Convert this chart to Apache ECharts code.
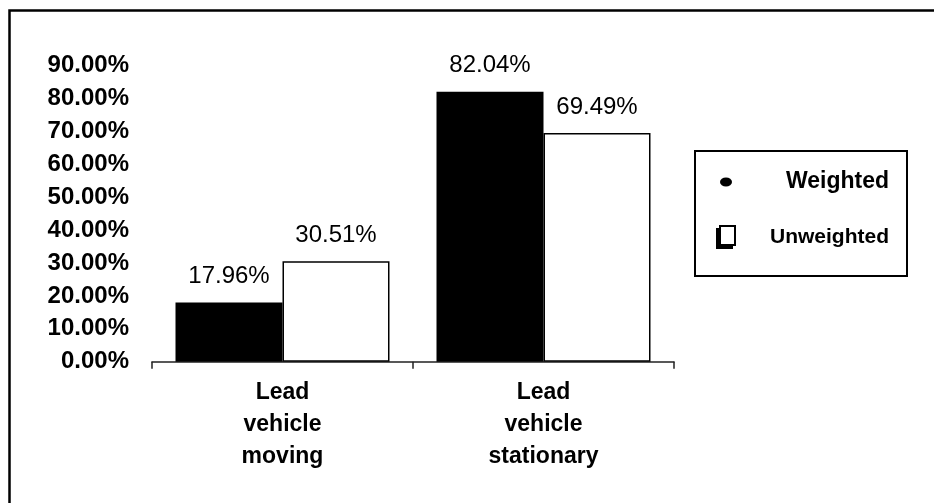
<!DOCTYPE html>
<html>
<head>
<meta charset="utf-8">
<script src="https://cdn.jsdelivr.net/npm/echarts@6/dist/echarts.min.js"></script>
<style>
  html, body { margin: 0; padding: 0; background: #fff; }
  #chart { width: 934px; height: 503px; }
</style>
</head>
<body>
<div id="chart"></div>
<script>
// data
const categories = ["Lead\nvehicle\nmoving", "Lead\nvehicle\nstationary"];
const weighted = [17.96, 82.04];
const unweighted = [30.51, 69.49];
const yMin = 0;
const yMax = 90;
const yStep = 10;

const font = "'Liberation Sans', Arial, sans-serif";
const pct = (v) => v.toFixed(2) + "%";

const myChart = echarts.init(document.getElementById("chart"));

const option = {
  backgroundColor: "#fff",
  animation: false,
  textStyle: { fontFamily: font },
  grid: { left: 152, right: 260, top: 65.5, bottom: 141.3 },
  // outer frame of the original figure
  graphic: [
    {
      type: "rect",
      left: 7,
      top: 8,
      shape: { width: 1000, height: 600 },
      style: { fill: "none", stroke: "#000", lineWidth: 2.5 },
      silent: true,
    },
  ],
  legend: {
    orient: "vertical",
    left: 695,
    top: 151,
    padding: [18, 18, 26, 20],
    borderColor: "#000",
    borderWidth: 2,
    itemWidth: 22,
    itemHeight: 26,
    itemGap: 29,
    selectedMode: false,
    data: [
      {
        name: "Weighted",
        icon: "path://M0 0 M22 26 M5 13 A6 4.5 0 1 0 17 13 A6 4.5 0 1 0 5 13 Z",
        itemStyle: { color: "#000", borderWidth: 0 },
      },
      {
        // square with a drop shadow to the lower left, drawn as one black outline
        name: "Unweighted",
        icon: "path://M0 0 M22 26 M4 1 L21 1 L21 22 L18 22 L18 25 L1 25 L1 4 L4 4 Z M6 3 L6 20 L19 20 L19 3 Z",
        itemStyle: { color: "#000", borderWidth: 0 },
      },
    ],
    formatter: (name) => (name === "Weighted" ? "{w|" + name + "}" : "{u|" + name + "}"),
    textStyle: {
      rich: {
        w: { width: 147, align: "right", fontSize: 23, fontWeight: "bold", color: "#000", lineHeight: 26, fontFamily: font },
        u: { width: 147, align: "right", fontSize: 21, fontWeight: "bold", color: "#000", lineHeight: 26, fontFamily: font },
      },
    },
  },
  xAxis: {
    type: "category",
    data: categories,
    axisLine: { lineStyle: { color: "#222", width: 1.5 } },
    axisTick: { show: true, length: 7, lineStyle: { color: "#222", width: 1.5 } },
    axisLabel: {
      color: "#000",
      fontSize: 23,
      fontWeight: "bold",
      lineHeight: 32,
      margin: 15,
      fontFamily: font,
    },
  },
  yAxis: {
    type: "value",
    min: yMin,
    max: yMax,
    interval: yStep,
    splitLine: { show: false },
    axisLine: { show: false },
    axisTick: { show: false },
    axisLabel: {
      color: "#000",
      fontSize: 24,
      fontWeight: "bold",
      margin: 23,
      padding: [0, 0, 8, 0],
      fontFamily: font,
      formatter: pct,
    },
  },
  series: [
    {
      name: "Weighted",
      type: "bar",
      data: weighted,
      barWidth: 107,
      barGap: "0%",
      itemStyle: { color: "#000" },
      label: {
        show: true,
        position: "top",
        distance: 14,
        color: "#000",
        fontSize: 24,
        fontFamily: font,
        formatter: (p) => pct(p.value),
      },
    },
    {
      name: "Unweighted",
      type: "bar",
      data: unweighted,
      barWidth: 107,
      barGap: "0%",
      itemStyle: { color: "#fff", borderColor: "#000", borderWidth: 1.5 },
      label: {
        show: true,
        position: "top",
        distance: 14,
        color: "#000",
        fontSize: 24,
        fontFamily: font,
        formatter: (p) => pct(p.value),
      },
    },
  ],
};

myChart.setOption(option);
</script>
</body>
</html>
